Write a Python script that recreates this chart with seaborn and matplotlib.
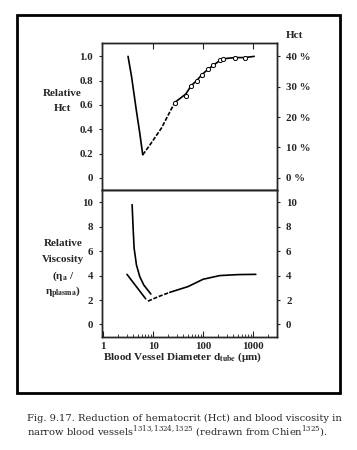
import matplotlib
matplotlib.use("Agg")
import matplotlib.pyplot as plt
import seaborn as sns
import pandas as pd
from matplotlib.ticker import FixedLocator, NullFormatter, LogLocator
from matplotlib.patches import Rectangle

# ---------------- data ----------------
hct_fall_d = [3.15, 3.7, 4.6, 5.4, 6.2]
hct_fall_v = [1.0, 0.835, 0.56, 0.37, 0.19]
hct_dash_d = [6.2, 8.6, 14.7, 27]
hct_dash_v = [0.19, 0.27, 0.41, 0.62]
hct_curve_d = [27, 45, 58, 74, 95, 126, 158, 216, 251, 430, 682, 1050]
hct_curve_v = [0.62, 0.69, 0.76, 0.80, 0.85, 0.895, 0.925, 0.966, 0.98, 0.99, 0.99, 1.0]
hct_pts_d = [27, 45, 58, 74, 95, 126, 158, 216, 251, 430, 682]
hct_pts_v = [0.62, 0.67, 0.76, 0.80, 0.85, 0.895, 0.925, 0.966, 0.98, 0.99, 0.99]

visc_steep_d = [3.8, 3.98, 4.17, 4.64, 5.41, 6.5, 9.0]
visc_steep_v = [9.8, 7.9, 6.24, 4.87, 3.91, 3.23, 2.49]
visc_line_d = [3.0, 7.1]
visc_line_v = [4.1, 2.1]
visc_dash_d = [7.9, 12.6, 21.6]
visc_dash_v = [1.91, 2.27, 2.63]
visc_curve_d = [21.6, 50, 100, 216, 500, 1130]
visc_curve_v = [2.63, 3.1, 3.7, 4.0, 4.08, 4.1]

x_ticks = [1, 10, 100, 1000]
x_labels = ["1", "10", "100", "1000"]
hct_ticks = [0, 0.2, 0.4, 0.6, 0.8, 1.0]
hct_labels = ["0", "0.2", "0.4", "0.6", "0.8", "1.0"]
pct_ticks = [0, 10, 20, 30, 40]
pct_labels = ["0 %", "10 %", "20 %", "30 %", "40 %"]
visc_ticks = [0, 2, 4, 6, 8, 10]
visc_labels = ["0", "2", "4", "6", "8", "10"]

# ---------------- style ----------------
sns.set_style("ticks")
plt.rcParams["font.family"] = ["Liberation Serif", "DejaVu Serif"]
plt.rcParams["font.weight"] = "bold"
plt.rcParams["mathtext.fontset"] = "stix"
plt.rcParams["axes.linewidth"] = 1.0

fig = plt.figure(figsize=(3.57, 4.5), dpi=100)
W, H = 357, 450

def fx(px):
    return px / W

def fy(py):
    return 1 - py / H

left, right = 102, 277
ax1 = fig.add_axes([fx(left), fy(190), fx(right - left), (190 - 43) / H])
ax2 = fig.add_axes([fx(left), fy(336.7), fx(right - left), (336.7 - 190) / H])

TS = 7.8
lw = 1.2
df = lambda d, v: pd.DataFrame({"d": d, "v": v})

# ---- top: hematocrit ----
sns.lineplot(data=df(hct_fall_d, hct_fall_v), x="d", y="v", ax=ax1, color="black",
             lw=lw, sort=False, estimator=None)
sns.lineplot(data=df(hct_dash_d, hct_dash_v), x="d", y="v", ax=ax1, color="black",
             lw=lw, sort=False, estimator=None, linestyle=(0, (2.5, 1.0)))
sns.lineplot(data=df(hct_curve_d, hct_curve_v), x="d", y="v", ax=ax1, color="black",
             lw=lw, sort=False, estimator=None)
sns.scatterplot(data=df(hct_pts_d, hct_pts_v), x="d", y="v", ax=ax1, marker="o",
                facecolor="white", edgecolor="black", linewidth=0.7, s=9, zorder=5)

# ---- bottom: viscosity ----
sns.lineplot(data=df(visc_steep_d, visc_steep_v), x="d", y="v", ax=ax2, color="black",
             lw=lw, sort=False, estimator=None)
sns.lineplot(data=df(visc_line_d, visc_line_v), x="d", y="v", ax=ax2, color="black",
             lw=lw, sort=False, estimator=None)
sns.lineplot(data=df(visc_dash_d, visc_dash_v), x="d", y="v", ax=ax2, color="black",
             lw=lw, sort=False, estimator=None, linestyle=(0, (2.5, 1.0)))
sns.lineplot(data=df(visc_curve_d, visc_curve_v), x="d", y="v", ax=ax2, color="black",
             lw=lw, sort=False, estimator=None)

for ax in (ax1, ax2):
    ax.set_xscale("log")
    ax.set_xlim(0.95, 3000)
    ax.set_xlabel("")
    ax.set_ylabel("")
    for s in ax.spines.values():
        s.set_visible(True)
        s.set_color("black")

ax1.set_ylim(-0.1, 1.11)
ax1.yaxis.set_major_locator(FixedLocator(hct_ticks))
ax1.set_yticklabels(hct_labels, fontsize=TS, fontweight="bold")
ax1.xaxis.set_major_locator(FixedLocator([10, 100, 1000]))
ax1.xaxis.set_minor_locator(FixedLocator([]))
ax1.tick_params(axis="x", which="major", direction="in", top=True, bottom=False,
                labeltop=False, labelbottom=False, length=4, width=0.8)
ax1.tick_params(axis="y", direction="out", length=2.5, width=0.8, pad=4)

ax1r = ax1.twinx()
ax1r.set_ylim(-0.1 * 40, 1.11 * 40)
ax1r.yaxis.set_major_locator(FixedLocator(pct_ticks))
ax1r.set_yticklabels(pct_labels, fontsize=TS, fontweight="bold")
ax1r.tick_params(axis="y", direction="out", length=2.5, width=0.8, pad=4)

ax2.set_ylim(-1.0, 11.0)
ax2.yaxis.set_major_locator(FixedLocator(visc_ticks))
ax2.set_yticklabels(visc_labels, fontsize=TS, fontweight="bold")
ax2.xaxis.set_major_locator(FixedLocator(x_ticks))
ax2.set_xticklabels(x_labels, fontsize=TS, fontweight="bold")
ax2.xaxis.set_minor_locator(LogLocator(base=10, subs=range(2, 10)))
ax2.xaxis.set_minor_formatter(NullFormatter())
ax2.tick_params(axis="x", which="major", direction="in", length=4.5, width=0.8, pad=4)
ax2.tick_params(axis="x", which="minor", direction="in", length=2, width=0.6)
ax2.tick_params(axis="y", direction="out", length=2.5, width=0.8, pad=4)

ax2r = ax2.twinx()
ax2r.set_ylim(-1.0, 11.0)
ax2r.yaxis.set_major_locator(FixedLocator(visc_ticks))
ax2r.set_yticklabels(visc_labels, fontsize=TS, fontweight="bold")
ax2r.tick_params(axis="y", direction="out", length=2.5, width=0.8, pad=4)

# ---- labels ----
LS = 8.0
fig.text(fx(62), fy(93.5), "Relative", ha="center", va="center", fontsize=LS, fontweight="bold")
fig.text(fx(62), fy(108.5), "Hct", ha="center", va="center", fontsize=LS, fontweight="bold")
fig.text(fx(295), fy(36), "Hct", ha="center", va="center", fontsize=LS, fontweight="bold")

fig.text(fx(63), fy(243.5), "Relative", ha="center", va="center", fontsize=LS, fontweight="bold")
fig.text(fx(63), fy(260), "Viscosity", ha="center", va="center", fontsize=LS, fontweight="bold")
fig.text(fx(63), fy(276.5), r"($\mathregular{\eta_{\mathbf{a}}}$ /", ha="center", va="center",
         fontsize=LS, fontweight="bold")
fig.text(fx(63), fy(292.5), r"$\mathregular{\eta_{\mathbf{plasma}}}$)", ha="center", va="center",
         fontsize=LS, fontweight="bold")

fig.text(fx(183), fy(357), r"Blood Vessel Diameter d$_{\mathbf{tube}}$ ($\mathregular{\mu}$m)",
         ha="center", va="center", fontsize=LS, fontweight="bold")

# ---- frame ----
fig.patches.append(Rectangle((fx(17), fy(393)), fx(340 - 17), (393 - 15) / H,
                             transform=fig.transFigure, fill=False, edgecolor="black",
                             linewidth=2.0, zorder=10))

# ---- caption ----
CS = 7.15
fig.text(fx(27), fy(418),
         "Fig. 9.17. Reduction of hematocrit (Hct) and blood viscosity in",
         ha="left", va="center", fontsize=CS, fontweight="normal", family=["DejaVu Serif"])
fig.text(fx(27), fy(432),
         r"narrow blood vessels$^{\mathregular{1313,1324,1325}}$ (redrawn from Chien$^{\mathregular{1325}}$).",
         ha="left", va="center", fontsize=CS, fontweight="normal", family=["DejaVu Serif"])

fig.savefig("out.png", dpi=100)
